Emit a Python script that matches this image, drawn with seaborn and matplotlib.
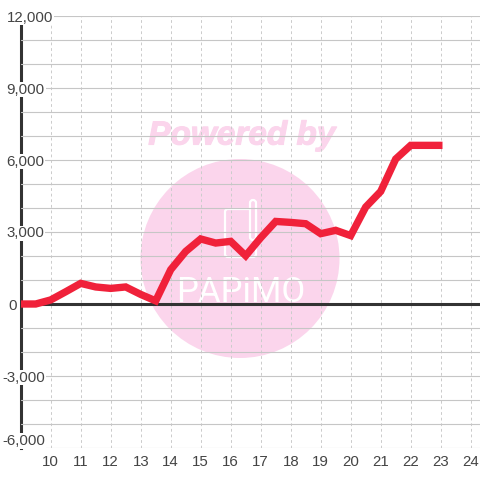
import matplotlib
matplotlib.use("Agg")
import matplotlib.pyplot as plt
from matplotlib.patches import Circle, FancyBboxPatch
from matplotlib.transforms import IdentityTransform
import matplotlib.patheffects as pe
import pandas as pd
import seaborn as sns

hours = [9, 9.5, 10, 10.5, 11, 11.5, 12, 12.5, 13, 13.5, 14, 14.5, 15, 15.5, 16, 16.5,
         17, 17.5, 18, 18.5, 19, 19.5, 20, 20.5, 21, 21.5, 22, 22.5, 23.06]
values = [0, 0, 170, 510, 860, 710, 650, 710, 400, 130, 1430, 2190, 2710, 2540, 2610, 2010,
          2760, 3440, 3400, 3345, 2930, 3070, 2850, 4040, 4690, 6040, 6610, 6610, 6610]
x_ticks = list(range(10, 25))
y_major = [-6000, -3000, 0, 3000, 6000, 9000, 12000]
y_minor = [-5000, -4000, -2000, -1000, 1000, 2000, 4000, 5000, 7000, 8000, 10000, 11000]
y_labels = ["-6,000", "-3,000", "0", "3,000", "6,000", "9,000", "12,000"]

sns.set_theme(style="white")
plt.rcParams["font.family"] = ["Liberation Sans", "DejaVu Sans"]

W = H = 480
fig = plt.figure(figsize=(4.8, 4.8), dpi=100, facecolor="white")
L, R, T, B = 20.7, 480, 16, 448
ax = fig.add_axes([L / W, 1 - B / H, (R - L) / W, (B - T) / H])

df = pd.DataFrame({"hour": hours, "value": values})
sns.lineplot(data=df, x="hour", y="value", ax=ax, color="#f0213a", linewidth=5.3,
             estimator=None, sort=False, zorder=3,
             solid_capstyle="butt", solid_joinstyle="miter")

ax.set_xlim(9, 9 + (R - L) / 30)
ax.set_ylim(-6000, 12000)
ax.set_xlabel("")
ax.set_ylabel("")
ax.set_xticks(x_ticks)
ax.set_xticklabels([str(t) for t in x_ticks])
ax.set_yticks(y_major)
ax.set_yticks(y_minor, minor=True)
ax.set_yticklabels(y_labels)

ax.set_axisbelow(True)
ax.grid(True, axis="y", which="both", color="#c6c6c6", linewidth=0.8, linestyle="-")
ax.grid(True, axis="x", which="major", color="#cccccc", linewidth=0.72, linestyle=(0, (2.8, 2.8)))
ax.tick_params(axis="both", which="both", length=0, labelsize=10.8, labelcolor="#444444")
ax.tick_params(axis="x", pad=5)
ax.tick_params(axis="y", pad=0)

for tick, text in zip(ax.yaxis.get_major_ticks(), y_labels):
    lab = tick.label1
    lab.set_ha("left")
    left = 2 if text.startswith("-") else (8 if text == "0" else 6.5)
    lab.set_x((left - L) / (R - L))
    lab.set_bbox(dict(facecolor="white", edgecolor="none", pad=0.6))
    if text == "-6,000":
        lab.set_va("bottom")

for name in ("top", "right", "bottom"):
    ax.spines[name].set_visible(False)
ax.spines["left"].set_color("#333333")
ax.spines["left"].set_linewidth(2.2)
ax.spines["left"].set_zorder(0.4)
ax.axhline(0, color="#333333", linewidth=2.2, zorder=1)

# watermark, in pixel coordinates
pink = "#fbd5ec"
idt = IdentityTransform()
def Y(y):
    return H - y
ax.add_artist(Circle((240, Y(258.5)), 99.5, facecolor=pink, edgecolor="none",
                     transform=idt, zorder=0.1, clip_on=False))
ax.add_artist(FancyBboxPatch((225, Y(257)), 31, 48, boxstyle="round,pad=0,rounding_size=3",
                             facecolor="none", edgecolor="white", linewidth=1.6,
                             transform=idt, zorder=0.2, clip_on=False))
ax.add_artist(FancyBboxPatch((250, Y(240)), 6, 40, boxstyle="round,pad=0,rounding_size=3",
                             facecolor=pink, edgecolor="white", linewidth=1.6,
                             transform=idt, zorder=0.2, clip_on=False))
ax.text(242, Y(136), "Powered by", transform=idt, ha="center", va="center", color=pink,
        fontsize=24, fontweight="bold", fontstyle="italic", zorder=0.2,
        path_effects=[pe.withStroke(linewidth=0.8, foreground=pink)])
ax.text(240.5, Y(292), "PAPiMO", transform=idt, ha="center", va="center", color="white",
        fontsize=25, family=["Roboto", "Liberation Sans"], zorder=0.2)

fig.savefig("out.png", dpi=100)
